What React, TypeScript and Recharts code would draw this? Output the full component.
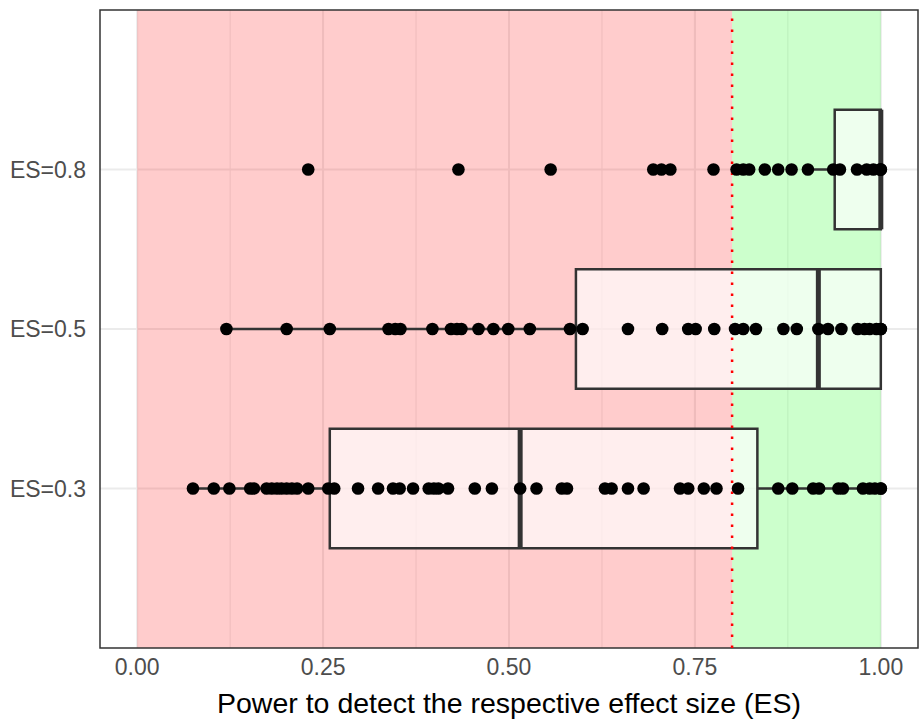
import {
  CartesianGrid,
  Label,
  ReferenceArea,
  ReferenceLine,
  Scatter,
  ScatterChart,
  XAxis,
  YAxis,
} from "recharts";

const WIDTH = 919;
const HEIGHT = 719;
const BOX_HALF = 0.375;

const categories = ["ES=0.3", "ES=0.5", "ES=0.8"];

const power03 = [
  0.075, 0.103, 0.124, 0.152, 0.157, 0.174, 0.181, 0.188, 0.194, 0.201, 0.208,
  0.215, 0.23, 0.257, 0.265, 0.297, 0.324, 0.344, 0.353, 0.371, 0.392, 0.399,
  0.405, 0.418, 0.454, 0.477, 0.515, 0.537, 0.571, 0.578, 0.629, 0.638, 0.66,
  0.681, 0.73, 0.741, 0.762, 0.779, 0.808, 0.862, 0.881, 0.909, 0.917, 0.943,
  0.949, 0.976, 0.985, 0.992, 1.0, 1.0,
];
const power05 = [
  0.12, 0.201, 0.259, 0.338, 0.347, 0.354, 0.397, 0.422, 0.43, 0.436, 0.459,
  0.479, 0.499, 0.528, 0.582, 0.599, 0.66, 0.706, 0.741, 0.751, 0.776, 0.804,
  0.815, 0.832, 0.869, 0.887, 0.916, 0.929, 0.947, 0.969, 0.978, 0.985, 0.994,
  1.0, 1.0,
];
const power08 = [
  0.23, 0.432, 0.556, 0.694, 0.705, 0.717, 0.775, 0.806, 0.815, 0.823, 0.844,
  0.862, 0.88, 0.902, 0.936, 0.945, 0.968, 0.981, 0.99, 0.999, 1.0, 1.0,
];

// box stats per category
const q1s = [0.259, 0.59, 0.938];
const medians = [0.515, 0.916, 1.0];
const q3s = [0.834, 1.0, 1.0];
const whiskerLow = [0.075, 0.12, 0.902];
const whiskerHigh = [1.0, 1.0, 1.0];

const xTicks = [0, 0.25, 0.5, 0.75, 1];
const xMinor = [0.125, 0.375, 0.625, 0.875];
const yTicks = [1, 2, 3];

const points = [power03, power05, power08].flatMap((vals, i) =>
  vals.map((v) => ({ x: v, y: i + 1 }))
);

const Dot = (props: any) => <circle cx={props.cx} cy={props.cy} r={6.3} fill="#000" />;

export default function App() {
  return (
    <div
      style={{
        position: "absolute",
        left: 0,
        top: 0,
        fontFamily: "'Liberation Sans', Arial, sans-serif",
        background: "#fff",
      }}
    >
      <ScatterChart
        width={WIDTH}
        height={HEIGHT}
        margin={{ top: 10, right: 1, bottom: 0, left: 0 }}
      >
        <CartesianGrid
          stroke="#EBEBEB"
          strokeWidth={2}
          verticalValues={xTicks}
          horizontalValues={yTicks}
        />
        <CartesianGrid
          stroke="#EBEBEB"
          strokeWidth={1}
          horizontal={false}
          verticalValues={xMinor}
        />
        <XAxis
          type="number"
          dataKey="x"
          domain={[-0.05, 1.05]}
          ticks={xTicks}
          allowDataOverflow
          tickFormatter={(v) => Number(v).toFixed(2)}
          tickLine={false}
          axisLine={false}
          tickSize={0}
          tickMargin={11}
          height={71}
          tick={{ fill: "#4D4D4D", fontSize: 23 }}
        >
          <Label
            value="Power to detect the respective effect size (ES)"
            position="insideBottom"
            offset={6}
            style={{ fill: "#000", fontSize: 28.5 }}
          />
        </XAxis>
        <YAxis
          type="number"
          dataKey="y"
          domain={[0, 4]}
          ticks={yTicks}
          allowDataOverflow
          tickFormatter={(v) => categories[Number(v) - 1]}
          tickLine={false}
          axisLine={false}
          tickSize={0}
          tickMargin={14}
          width={100}
          tick={{ fill: "#4D4D4D", fontSize: 23 }}
        />
        <ReferenceArea x1={0} x2={0.8} fill="#FF0000" fillOpacity={0.2} stroke="none" />
        <ReferenceArea x1={0.8} x2={1} fill="#00FF00" fillOpacity={0.2} stroke="none" />
        <ReferenceLine x={0.8} stroke="#FF0000" strokeWidth={2.5} strokeDasharray="2.5 8.5" />
        {categories.map((c, i) => (
          <ReferenceLine
            key={`wl-${c}`}
            segment={[
              { x: whiskerLow[i], y: i + 1 },
              { x: q1s[i], y: i + 1 },
            ]}
            stroke="#333"
            strokeWidth={2.5}
          />
        ))}
        {categories.map((c, i) => (
          <ReferenceLine
            key={`wh-${c}`}
            segment={[
              { x: q3s[i], y: i + 1 },
              { x: whiskerHigh[i], y: i + 1 },
            ]}
            stroke="#333"
            strokeWidth={2.5}
          />
        ))}
        {categories.map((c, i) => (
          <ReferenceArea
            key={`box-${c}`}
            x1={q1s[i]}
            x2={q3s[i]}
            y1={i + 1 - BOX_HALF}
            y2={i + 1 + BOX_HALF}
            fill="#FFFFFF"
            fillOpacity={0.67}
            stroke="#333"
            strokeWidth={2.5}
          />
        ))}
        {categories.map((c, i) => (
          <ReferenceLine
            key={`med-${c}`}
            segment={[
              { x: medians[i], y: i + 1 - BOX_HALF },
              { x: medians[i], y: i + 1 + BOX_HALF },
            ]}
            stroke="#333"
            strokeWidth={5}
          />
        ))}
        <ReferenceArea
          x1={-0.05}
          x2={1.05}
          y1={0}
          y2={4}
          fill="none"
          stroke="#333"
          strokeWidth={1.5}
        />
        <Scatter data={points} shape={Dot} isAnimationActive={false} />
      </ScatterChart>
    </div>
  );
}
